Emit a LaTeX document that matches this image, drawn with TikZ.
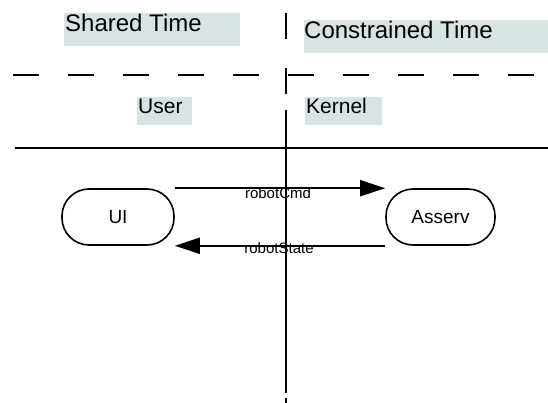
\documentclass[tikz,border=0pt]{standalone}
\usepackage{fontspec}
\setmainfont{Liberation Sans}
\usetikzlibrary{arrows.meta}
\definecolor{boxfill}{RGB}{216,228,228}
\tikzset{
  lbox/.style={fill=boxfill, draw=none},
  proc/.style={draw, line width=1.6pt, rounded corners=27pt, minimum width=112pt, minimum height=56pt, inner sep=0pt, font=\fontsize{19}{22}\selectfont},
  flow/.style={line width=1.8pt, -{Triangle[length=25pt,width=16pt]}},
  flowlabel/.style={font=\fontsize{15}{17}\selectfont, inner sep=0pt},
  divider/.style={line width=2pt},
  dashdiv/.style={line width=2pt, dash pattern=on 26pt off 29pt},
}
\begin{document}
\begin{tikzpicture}[x=1pt,y=-1pt]
\useasboundingbox (0,0) rectangle (548,403);
% label boxes
\fill[lbox] (64,13) rectangle (240,46);
\node[anchor=base west, inner sep=0pt, font=\fontsize{24}{28}\selectfont] (shared) at (65,32) {Shared Time};
\fill[lbox] (304,20) rectangle (548,53);
\node[anchor=base west, inner sep=0pt, font=\fontsize{24}{28}\selectfont] (constr) at (304,39) {Constrained Time};
\fill[lbox] (137,97) rectangle (192,125);
\node[anchor=base west, inner sep=0pt, font=\fontsize{21}{24}\selectfont] (user) at (138,114) {User};
\fill[lbox] (305,97) rectangle (382,125);
\node[anchor=base west, inner sep=0pt, font=\fontsize{21}{24}\selectfont] (kernel) at (306,114) {Kernel};
% dividers
\coordinate (hdl) at (13,75);
\coordinate (hdr) at (548,75);
\draw[dashdiv] (hdl) -- (hdr);
\coordinate (hsl) at (15,148);
\coordinate (hsr) at (548,148);
\draw[divider] (hsl) -- (hsr);
\coordinate (vdt) at (286,13);
\coordinate (vdb) at (286,403);
\draw[dashdiv] (vdt) -- (vdb);
\coordinate (vst) at (286,110);
\coordinate (vsb) at (286,393);
\draw[divider] (vst) -- (vsb);
% processes
\node[proc] (ui) at (118,217) {UI};
\node[proc, minimum width=109pt] (asserv) at (440.5,217) {Asserv};
\draw[flow] (ui.north east) -- (asserv.north west);
\draw[flow] (asserv.south west) -- (ui.south east);
\node[flowlabel] (cmd) at (278,193) {robotCmd};
\node[flowlabel] (state) at (279,248) {robotState};
\end{tikzpicture}
\end{document}
